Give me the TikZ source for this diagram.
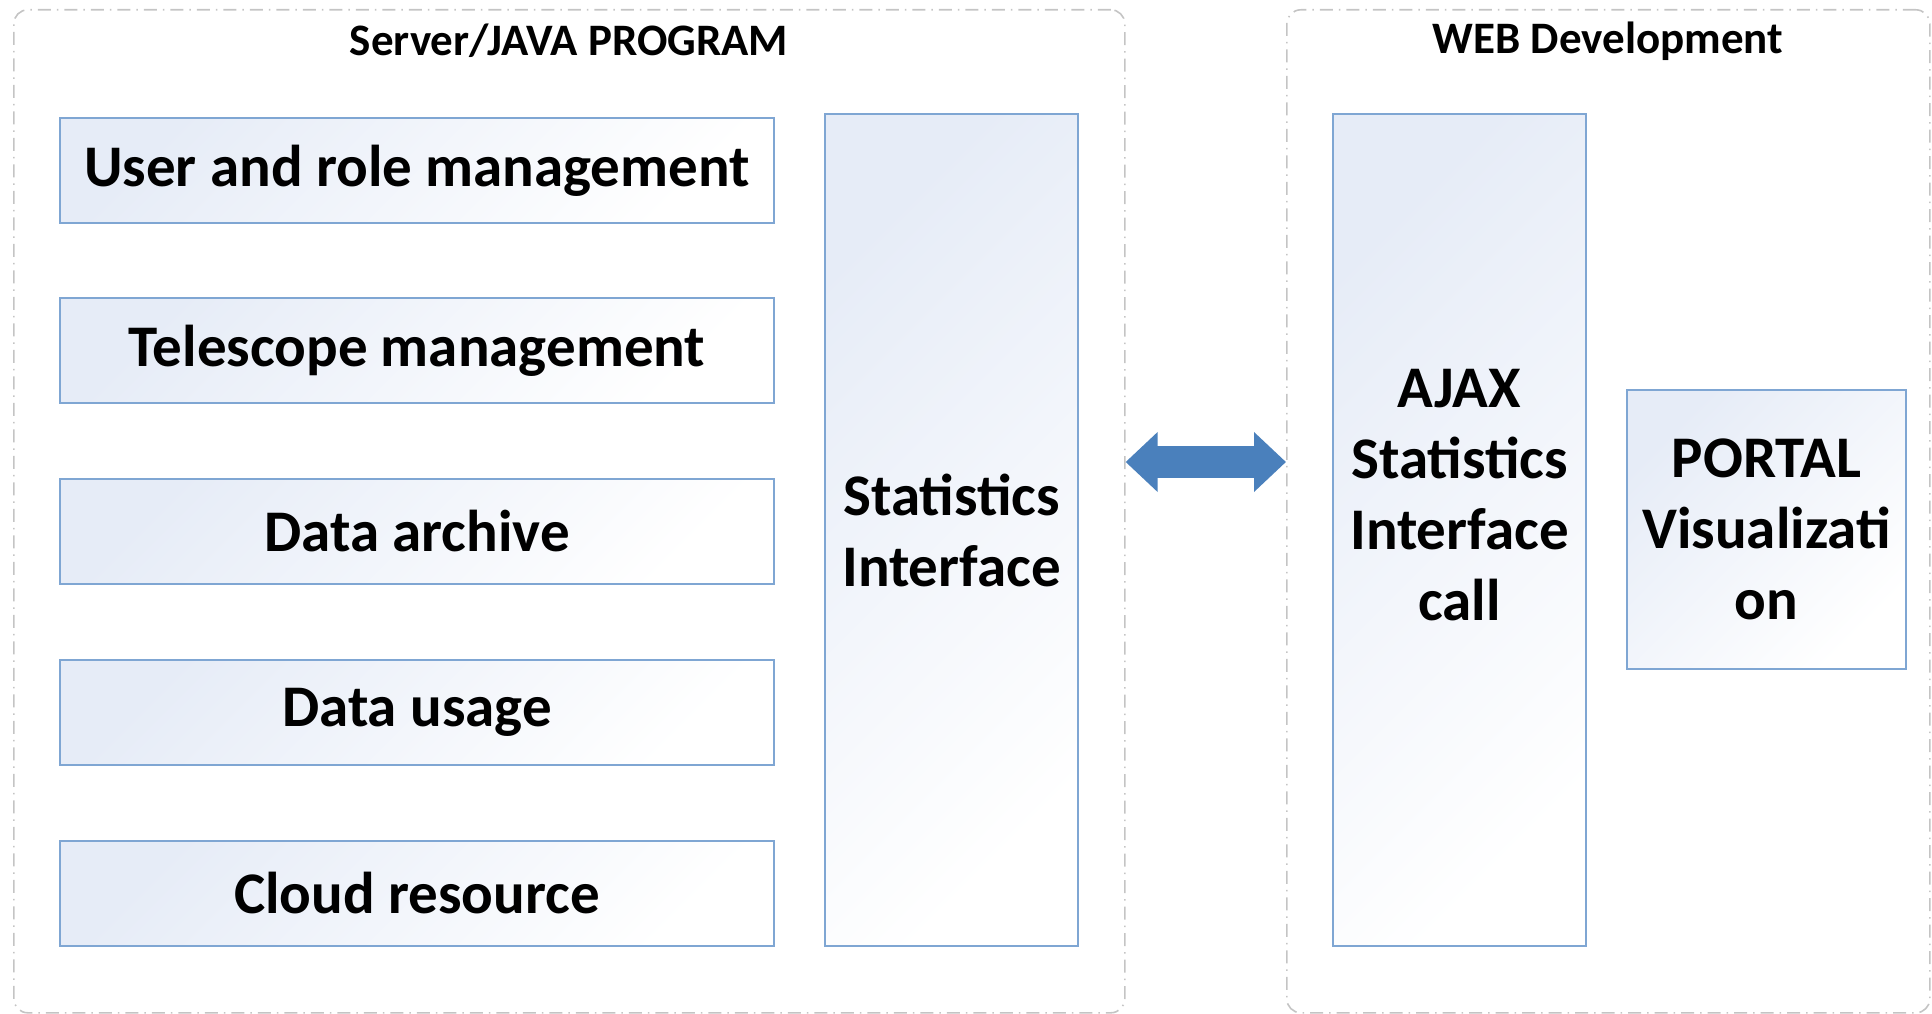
\documentclass[tikz,border=0pt]{standalone}
\usepackage{fontspec}
\setmainfont{Carlito}
\usetikzlibrary{arrows.meta,positioning}
\definecolor{boxline}{HTML}{7FA6D3}
\definecolor{boxfill}{HTML}{E6ECF7}
\definecolor{arrowblue}{HTML}{4A80BC}
\definecolor{contline}{HTML}{C4C4C4}
\tikzset{
  container/.style={draw=contline, line width=1.6pt, rounded corners=14pt,
    dash pattern=on 13pt off 6pt on 1.5pt off 6pt},
  titletext/.style={font=\fontsize{45}{54}\selectfont\bfseries, anchor=center},
  blockbox/.style={draw=boxline, line width=2pt, left color=boxfill, right color=white, shading angle=45,
    font=\fontsize{59}{71}\selectfont\bfseries, align=center, inner sep=0pt, anchor=north west},
  biarrow/.style={draw=arrowblue, line width=32pt,
    {Triangle[width=58pt,length=32pt]}-{Triangle[width=58pt,length=32pt]}}
}
\begin{document}
\begin{tikzpicture}[x=1pt,y=-1pt]
\useasboundingbox (0,0) rectangle (1932,1014);
% containers
\node[container, minimum width=1111pt, minimum height=1003pt, anchor=north west, inner sep=0pt] (srv) at (13,9) {};
\node[container, minimum width=643pt, minimum height=1003pt, anchor=north west, inner sep=0pt] (web) at (1286,9) {};
\node[titletext] (srvt) at (569,41) {Server/JAVA PROGRAM};
\node[titletext] (webt) at (1608,41) {WEB Development};
% left boxes
\node[blockbox, minimum width=714pt, minimum height=105pt] (b1) at (59,117) {User and role management};
\node[blockbox, minimum width=714pt, minimum height=105pt] (b2) at (59,297) {Telescope management};
\node[blockbox, minimum width=714pt, minimum height=105pt] (b3) at (59,478) {Data archive};
\node[blockbox, minimum width=714pt, minimum height=105pt] (b4) at (59,659) {Data usage};
\node[blockbox, minimum width=714pt, minimum height=105pt] (b5) at (59,840) {Cloud resource};
% statistics interface
\node[blockbox, minimum width=253pt, minimum height=832pt] (stat) at (824,113) {Statistics\\Interface};
% ajax
\node[blockbox, minimum width=253pt, minimum height=832pt] (ajax) at (1332,113) {AJAX\\Statistics\\Interface\\call\\[-22pt]\strut};
% portal
\node[blockbox, minimum width=279pt, minimum height=279pt] (portal) at (1626,389) {PORTAL\\Visualizati\\on};
% arrow
\draw[biarrow] (srv.east |- 0,462) -- (web.west |- 0,462);
\end{tikzpicture}
\end{document}
